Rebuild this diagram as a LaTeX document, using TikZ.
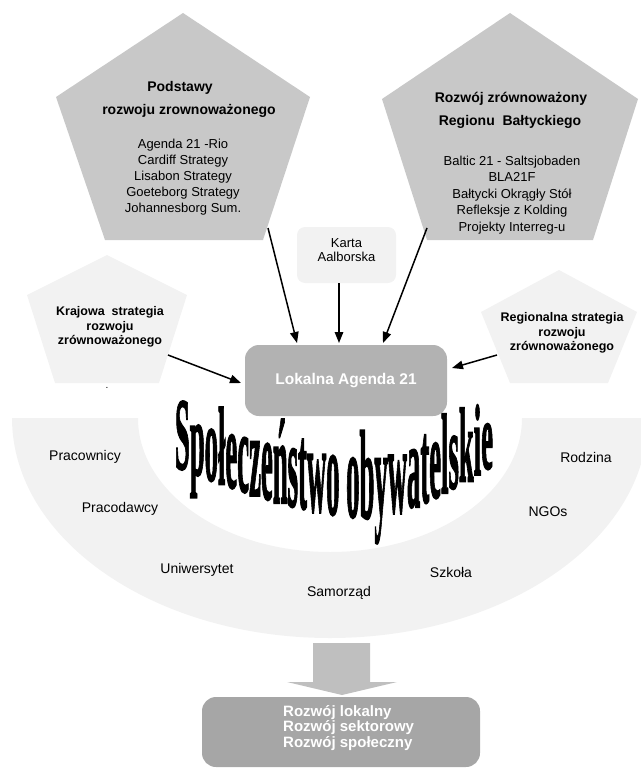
\documentclass[tikz,border=0pt]{standalone}
\usepackage{fontspec}
\usepackage{graphicx}
\setmainfont{Liberation Sans}
\newfontfamily\serifwa[BoldFeatures={FakeBold=2}]{Liberation Serif}
\usetikzlibrary{arrows.meta,calc}
\definecolor{lightfill}{HTML}{F2F2F2}
\definecolor{pentafill}{HTML}{C8C8C8}
\definecolor{lokalfill}{HTML}{B2B2B2}
\definecolor{resultfill}{HTML}{A6A6A6}
\definecolor{bigarrowfill}{HTML}{BFBFBF}
\newcommand\wafont{\serifwa\bfseries\fontsize{20}{20}\selectfont}
% letters given as glyph/width-in-em (Times Bold metrics = Liberation Serif Bold)
\newcommand\waword[2]{%
  \foreach \ch/\chem [count=\i] in {#2} {%
    \pgfmathsetmacro\waw{\chem*20*\wahs}%
    \pgfmathsetmacro\waxc{\wacurx+\waw/2}%
    \pgfmathsetmacro\wat{max(0.001,\waxc<370 ? (370-\waxc)/190 : (\waxc-370)/123)}%
    \pgfmathsetmacro\waB{\waxc<370 ? 518-50*pow(\wat,1.6) : 518-53*pow(\wat,1.5)}%
    \pgfmathsetmacro\waH{\waxc<370 ? 85-16*\wat*\wat : 85-22*\wat*\wat}%
    \pgfmathsetmacro\wavs{\waH/13.52}%
    \node[anchor=base west, inner sep=0pt, outer sep=0pt, name=#1\i] at (\wacurx,\waB) {\scalebox{\wahs}[\wavs]{\wafont\ch}};%
    \pgfmathsetmacro\wanext{\wacurx+\waw}%
    \global\let\wacurx\wanext
  }%
}
\begin{document}
\begin{tikzpicture}[x=1pt,y=-1pt,
  arr/.style={line width=1.5pt,-{Triangle[length=11pt,width=8.5pt]}},
  headtxt/.style={font=\fontsize{14}{17}\selectfont\bfseries,inner sep=0pt},
  listtxt/.style={font=\fontsize{13}{16}\selectfont,align=center,inner sep=0pt},
  smalltxt/.style={font=\fontsize{12.5}{14.5}\selectfont\bfseries,align=center,inner sep=0pt},
  bandtxt/.style={font=\fontsize{14}{16}\selectfont,inner sep=0pt},
]
\useasboundingbox (0,0) rectangle (640,768);

% society band
\fill[lightfill] (12,418) -- (138,418)
  arc[start angle=180,end angle=0,x radius=192,y radius=134]
  -- (648,418)
  arc[start angle=0,end angle=180,x radius=318,y radius=220] -- cycle;

% big pentagons
\fill[pentafill] (183,13) -- (310,97) -- (263,240) -- (105,240) -- (56,97) -- cycle;
\fill[pentafill] (510,13) -- (638,99) -- (593,240) -- (427,240) -- (382,99) -- cycle;
% small pentagons
\fill[lightfill] (107,255) -- (187,295) -- (159,383) -- (55,383) -- (27,295) -- cycle;
\fill[lightfill] (559,270) -- (637,312) -- (608,383) -- (510,383) -- (481,312) -- cycle;

% texts of big pentagons
\node[headtxt] (ph1) at (180,88) {Podstawy};
\node[headtxt] (ph2) at (189,111) {rozwoju zrownoważonego};
\node[listtxt] (pl) at (183,177) {Agenda 21 -Rio\\Cardiff Strategy\\Lisabon Strategy\\Goeteborg Strategy\\Johannesborg Sum.};
\node[headtxt] (rh1) at (511,99) {Rozwój zrównoważony};
\node[headtxt] (rh2) at (510,122) {Regionu\ \ Bałtyckiego};
\node[listtxt,font=\fontsize{13}{16.5}\selectfont] (rl) at (512,195) {Baltic 21 - Saltsjobaden\\BLA21F\\Bałtycki Okrągły Stół\\Refleksje z Kolding\\Projekty Interreg-u};

% small pentagon texts
\node[smalltxt] (kt) at (110,327) {Krajowa\ \ strategia\\rozwoju\\zrównoważonego};
\node[smalltxt] (rt) at (562,333) {Regionalna strategia\\rozwoju\\zrównoważonego};
\node[font=\fontsize{10}{10}\selectfont,inner sep=0pt] (dot) at (107,388) {.};

% Karta
\node[fill=lightfill,rounded corners=8pt,minimum width=99pt,minimum height=56pt,inner sep=0pt] (karta) at (346.5,255) {};
\node[listtxt,font=\fontsize{13}{14}\selectfont] (kartat) at (346.5,250) {Karta\\Aalborska};

% Lokalna Agenda
\node[fill=lokalfill,rounded corners=14pt,minimum width=202pt,minimum height=71pt,inner sep=0pt,
  font=\fontsize{15.5}{18}\selectfont\bfseries,text=white] (lokal) at (346,380.5) {Lokalna Agenda 21};

% arrows
\coordinate (a1s) at (268,228);
\coordinate (a1e) at (297,343);
\coordinate (a2s) at (339,283);
\coordinate (a2e) at (339,343);
\coordinate (a3s) at (427,228);
\coordinate (a3e) at (383,343);
\coordinate (a4s) at (168,355);
\coordinate (a4e) at (241,383);
\coordinate (a5s) at (497,355);
\coordinate (a5e) at (452,368);
\draw[arr] (a1s) -- (a1e);
\draw[arr] (a2s) -- (a2e);
\draw[arr] (a3s) -- (a3e);
\draw[arr] (a4s) -- (a4e);
\draw[arr] (a5s) -- (a5e);

% band labels
\node[bandtxt] (l1) at (85,457) {Pracownicy};
\node[bandtxt] (l2) at (120,509) {Pracodawcy};
\node[bandtxt] (l3) at (197,570) {Uniwersytet};
\node[bandtxt] (l4) at (339,593) {Samorząd};
\node[bandtxt] (l5) at (451,572) {Szkoła};
\node[bandtxt] (l6) at (548,512) {NGOs};
\node[bandtxt] (l7) at (586,457) {Rodzina};

% word art
\pgfmathsetmacro\wahs{318/(11.916*20)}
\xdef\wacurx{175}
\waword{wa}{S/.556,p/.556,o/.5,ł/.278,e/.444,c/.444,z/.444,e/.444,ń/.556,s/.389,t/.333,w/.722,o/.5}
\pgfmathsetmacro\wanext{\wacurx+0.25*20*\wahs}
\global\let\wacurx\wanext
\waword{wb}{o/.5,b/.556,y/.5,w/.722,a/.5,t/.333,e/.444,l/.278,s/.389,k/.556,i/.278,e/.444}

% big arrow
\fill[bigarrowfill] (313,643) -- (370,643) -- (370,682) -- (397,682) -- (342,695) -- (287,682) -- (313,682) -- cycle;

% result box
\node[fill=resultfill,rounded corners=14pt,minimum width=278pt,minimum height=70pt,inner sep=0pt] (result) at (341,732) {};
\node[font=\fontsize{15}{13.3}\selectfont\bfseries,text=white,align=left,anchor=west,inner sep=0pt] (resultt) at (283,728) {Rozwój lokalny\\Rozwój sektorowy\\Rozwój społeczny};
\end{tikzpicture}
\end{document}
